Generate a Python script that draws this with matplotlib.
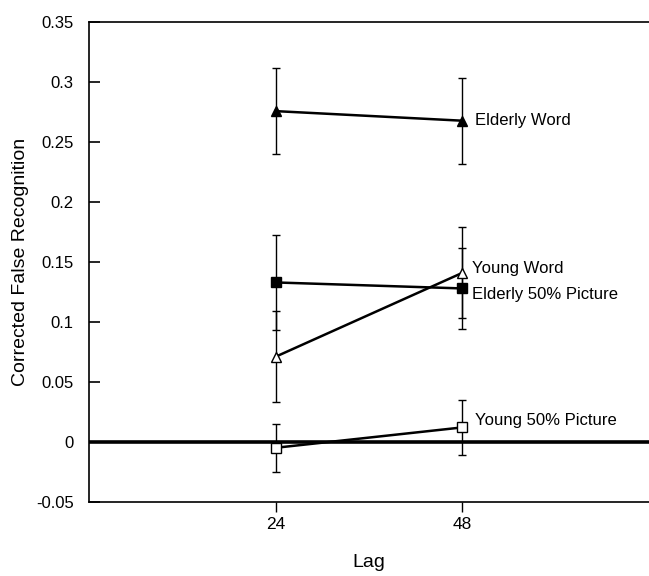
import matplotlib.pyplot as plt

lags = [24, 48]

elderly_word = [0.276, 0.268]
elderly_word_err = [0.036, 0.036]
young_word = [0.071, 0.141]
young_word_err = [0.038, 0.038]
elderly_pic = [0.133, 0.128]
elderly_pic_err = [0.040, 0.034]
young_pic = [-0.005, 0.012]
young_pic_err = [0.020, 0.023]

plt.rcParams['font.family'] = ['Liberation Sans', 'DejaVu Sans']

fig = plt.figure(figsize=(6.49, 5.76), dpi=100)
ax = fig.add_axes([0.137, 0.129, 0.863, 0.832])

ax.axhline(0, color='black', lw=2.6, zorder=1)

series = [
    (elderly_word, elderly_word_err, '^', 'black', 'Elderly Word'),
    (young_word, young_word_err, '^', 'white', 'Young Word'),
    (elderly_pic, elderly_pic_err, 's', 'black', 'Elderly 50% Picture'),
    (young_pic, young_pic_err, 's', 'white', 'Young 50% Picture'),
]
for vals, errs, m, fc, name in series:
    ax.errorbar(lags, vals, yerr=errs, color='black', lw=1.8, elinewidth=1.0,
                capsize=3, capthick=1.0, marker=m, markersize=7,
                markerfacecolor=fc, markeredgecolor='black', markeredgewidth=1.0,
                zorder=3)

# series labels at the right end
ax.text(49.6, 0.268, 'Elderly Word', fontsize=12, va='center')
ax.text(49.2, 0.145, 'Young Word', fontsize=12, va='center')
ax.text(49.3, 0.123, 'Elderly 50% Picture', fontsize=12, va='center')
ax.text(49.6, 0.018, 'Young 50% Picture', fontsize=12, va='center')

ax.set_xlim(0, 72)
ax.set_ylim(-0.05, 0.35)
ax.set_xticks(lags)
ax.set_xticklabels(['24', '48'])
ax.set_yticks([-0.05, 0, 0.05, 0.1, 0.15, 0.2, 0.25, 0.3, 0.35])
ax.set_yticklabels(['-0.05', '0', '0.05', '0.1', '0.15', '0.2', '0.25', '0.3', '0.35'])
ax.tick_params(axis='y', direction='in', length=8, width=1.2, labelsize=12, pad=11)
ax.tick_params(axis='x', direction='out', length=7, width=1.0, labelsize=12.5, pad=4)

ax.spines['right'].set_visible(False)
for s in ['left', 'top', 'bottom']:
    ax.spines[s].set_linewidth(1.2)

ax.set_xlabel('Lag', fontsize=14, labelpad=16)
ax.set_ylabel('Corrected False Recognition', fontsize=14, labelpad=5)

fig.savefig('out.png', dpi=100)
